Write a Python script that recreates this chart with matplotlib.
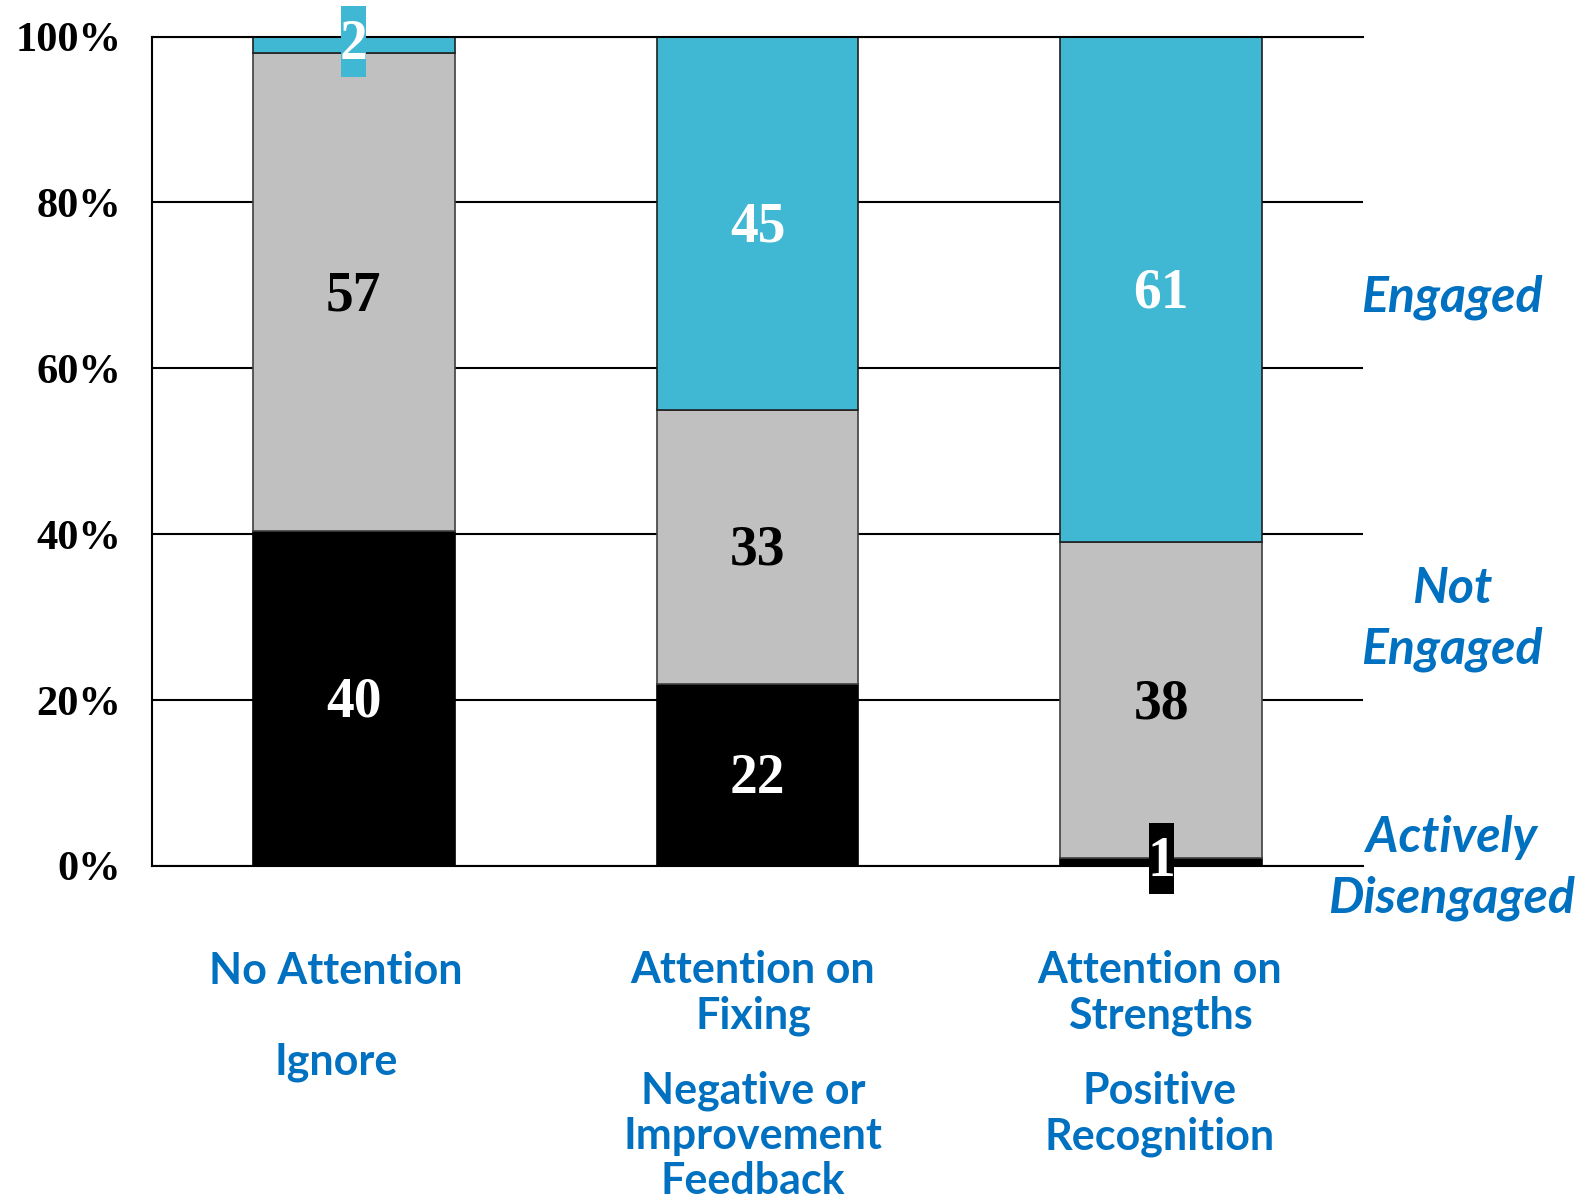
import matplotlib
matplotlib.use("Agg")
import matplotlib.pyplot as plt
import matplotlib.transforms as mtransforms
from matplotlib.patches import Rectangle
import numpy as np

categories = ["No Attention", "Attention on\nFixing", "Attention on\nStrengths"]
subtitles = ["Ignore", "Negative or\nImprovement\nFeedback", "Positive\nRecognition"]
actively_disengaged = [40, 22, 1]
not_engaged = [57, 33, 38]
engaged = [2, 45, 61]
yticks = [0, 20, 40, 60, 80, 100]
ytick_labels = ["0%", "20%", "40%", "60%", "80%", "100%"]
series_names = ["Actively\nDisengaged", "Not\nEngaged", "Engaged"]

BLUE = "#0070C0"
CYAN = "#41B8D3"
GRAY = "#C0C0C0"
SERIF = "Liberation Serif"
SANS = "Lato"

fig = plt.figure(figsize=(15.89, 12.04), dpi=100)
ax = fig.add_axes([152/1589, 1 - 866/1204, (1363-152)/1589, (866-36.5)/1204])

x = np.arange(len(categories))
series = [np.array(actively_disengaged, float), np.array(not_engaged, float), np.array(engaged, float)]
totals = sum(series)
colors = ["black", GRAY, CYAN]
edges = ["black", "#404040", "#202020"]
txtcol = ["white", "black", "white"]
bottom = np.zeros(len(x))
w = 0.5
for s, c, ec, tc in zip(series, colors, edges, txtcol):
    h = s / totals * 100
    ax.bar(x, h, w, bottom=bottom, color=c, edgecolor=ec, linewidth=1.2, zorder=3)
    for xi, hi, bi, v in zip(x, h, bottom, s):
        mid = bi + hi / 2
        if hi < 5:
            trans = fig.dpi_scale_trans + mtransforms.ScaledTranslation(xi, mid, ax.transData)
            ax.add_patch(Rectangle((-0.125, -0.32), 0.25, 0.71, transform=trans,
                                   facecolor=c, edgecolor="none", zorder=4, clip_on=False))
            dy = 0
        else:
            dy = -0.04
        ttrans = ax.transData + mtransforms.ScaledTranslation(0, dy, fig.dpi_scale_trans)
        ax.text(xi, mid, f"{int(v)}", ha="center", va="center", transform=ttrans,
                fontsize=40, fontweight="bold", family=SERIF, color=tc, zorder=5)
    bottom = bottom + h

ax.set_xlim(-0.5, 2.5)
ax.set_ylim(0, 100)
ax.set_yticks(yticks)
ax.set_yticklabels(ytick_labels, fontsize=30.5, fontweight="bold", family=SERIF)
ax.tick_params(axis="y", length=0, pad=22)
ax.set_xticks([])
ax.yaxis.grid(True, color="black", linewidth=1.5)
ax.set_axisbelow(True)
ax.spines["right"].set_visible(False)
for sp in ["left", "top", "bottom"]:
    ax.spines[sp].set_linewidth(1.5)
ax.spines["top"].set_zorder(3.5)

def px(xp, yp):
    return xp / 1589, 1 - yp / 1204

# category labels below the bars
cat_pos = [(336, 971), (753, 993), (1160, 993)]
sub_pos = [(336, 1062), (753, 1136), (1160, 1114)]
for lab, sub, (cx, cy), (sx, sy) in zip(categories, subtitles, cat_pos, sub_pos):
    fig.text(*px(cx, cy), lab, ha="center", va="center", fontsize=31, fontweight="bold",
             family=SANS, color=BLUE, linespacing=1.15)
    fig.text(*px(sx, sy), sub, ha="center", va="center", fontsize=31, fontweight="bold",
             family=SANS, color=BLUE, linespacing=1.15)

# series labels on the right
series_pos = [(1452, 868), (1452, 619), (1452, 297)]
for name, (sx, sy) in zip(series_names, series_pos):
    fig.text(*px(sx, sy), name, ha="center", va="center", fontsize=36, fontweight="bold",
             fontstyle="italic", family=SANS, color=BLUE, linespacing=1.42)

fig.savefig("out.png", dpi=100, facecolor="white")
